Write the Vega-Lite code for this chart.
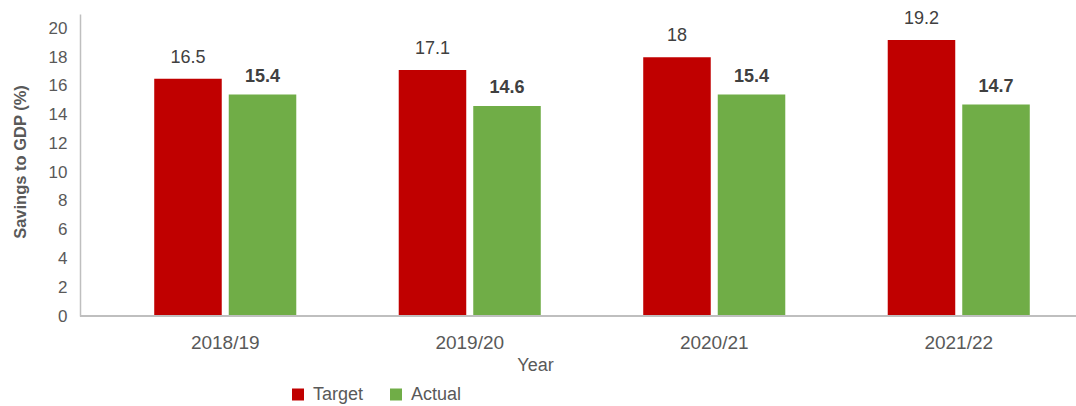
{
  "$schema": "https://vega.github.io/schema/vega-lite/v6.json",
  "autosize": {"type": "none"},
  "padding": {"left": 80, "top": 14, "right": 0, "bottom": 90},
  "width": 996,
  "height": 302,
  "background": "white",
  "config": {
    "view": {"stroke": null},
    "font": "Liberation Sans"
  },
  "data": {
    "values": [
      {"year": "2018/19", "series": "Target", "value": 16.5},
      {"year": "2018/19", "series": "Actual", "value": 15.4},
      {"year": "2019/20", "series": "Target", "value": 17.1},
      {"year": "2019/20", "series": "Actual", "value": 14.6},
      {"year": "2020/21", "series": "Target", "value": 18},
      {"year": "2020/21", "series": "Actual", "value": 15.4},
      {"year": "2021/22", "series": "Target", "value": 19.2},
      {"year": "2021/22", "series": "Actual", "value": 14.7}
    ]
  },
  "encoding": {
    "y": {
      "field": "value", "type": "quantitative",
      "scale": {"domain": [0, 21], "nice": false},
      "axis": {
        "title": "Savings to GDP (%)", "values": [0, 2, 4, 6, 8, 10, 12, 14, 16, 18, 20],
        "tickCount": 11, "labelOverlap": false,
        "grid": false, "ticks": false, "domainColor": "#bfbfbf", "domainWidth": 1.5,
        "labelFontSize": 17, "labelColor": "#595959", "labelPadding": 13,
        "titleFontSize": 16.5, "titleFontWeight": "bold", "titleColor": "#595959",
        "titleX": -55, "titleY": 147.5, "titleAngle": 270, "titleAlign": "center",
        "titleBaseline": "alphabetic"
      }
    }
  },
  "layer": [
    {
      "mark": {"type": "bar"},
      "encoding": {
        "x": {
          "field": "year", "type": "nominal",
          "scale": {"range": [23, 1001], "paddingInner": 0.419, "paddingOuter": 0.2095},
          "axis": {
            "title": "Year", "labelAngle": 0, "labelFontSize": 19, "labelColor": "#595959",
            "labelPadding": 17, "ticks": false, "domain": false, "grid": false,
            "titleFontSize": 18, "titleFontWeight": "normal", "titleColor": "#595959",
            "titleX": 455, "titleY": 54, "titleBaseline": "alphabetic", "titleAlign": "center"
          }
        },
        "xOffset": {
          "field": "series", "type": "nominal",
          "scale": {"domain": ["Target", "Actual"], "paddingInner": 0.094, "paddingOuter": 0}
        },
        "color": {
          "field": "series", "type": "nominal",
          "scale": {"domain": ["Target", "Actual"], "range": ["#C00000", "#70AD47"]},
          "legend": {
            "title": null, "orient": "none", "direction": "horizontal",
            "legendX": 209, "legendY": 371.5, "padding": 0,
            "symbolType": "square", "symbolSize": 144, "symbolStrokeWidth": 0,
            "labelFontSize": 18, "labelColor": "#595959", "labelOffset": 6,
            "columnPadding": 23
          }
        }
      }
    },
    {
      "transform": [{"filter": "datum.series === 'Target'"}],
      "mark": {"type": "text", "fontSize": 18, "color": "#404040", "baseline": "alphabetic", "dy": -16},
      "encoding": {
        "x": {"field": "year", "type": "nominal"},
        "xOffset": {"field": "series", "type": "nominal"},
        "text": {"field": "value", "type": "quantitative"}
      }
    },
    {
      "transform": [{"filter": "datum.series === 'Actual'"}],
      "mark": {"type": "text", "fontSize": 18, "fontWeight": "bold", "color": "#404040", "baseline": "alphabetic", "dy": -13},
      "encoding": {
        "x": {"field": "year", "type": "nominal"},
        "xOffset": {"field": "series", "type": "nominal"},
        "text": {"field": "value", "type": "quantitative", "format": ".1f"}
      }
    },
    {
      "mark": {"type": "rule", "color": "#bfbfbf", "strokeWidth": 1.5},
      "encoding": {"y": {"datum": 0, "type": "quantitative"}}
    }
  ]
}
